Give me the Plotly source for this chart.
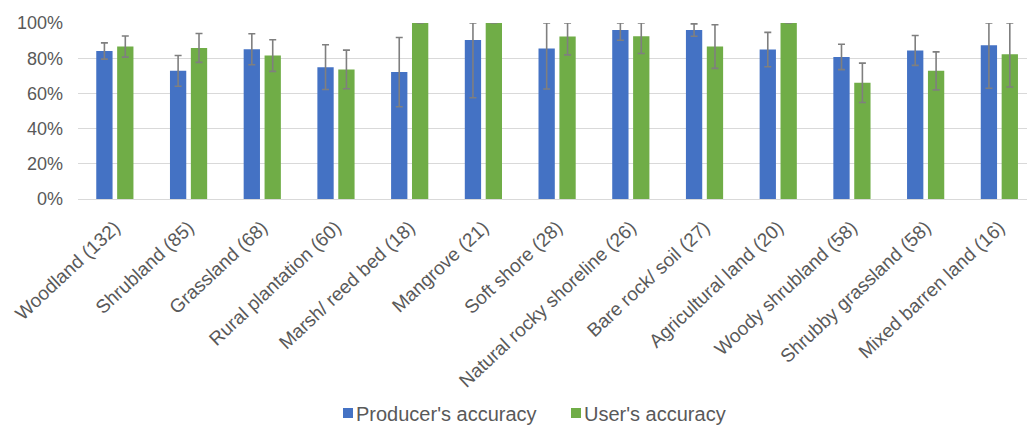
import plotly.graph_objects as go

# Land-cover classes (sample size in brackets)
categories = [
    "Woodland (132)", "Shrubland (85)", "Grassland (68)", "Rural plantation (60)",
    "Marsh/ reed bed (18)", "Mangrove (21)", "Soft shore (28)",
    "Natural rocky shoreline (26)", "Bare rock/ soil (27)", "Agricultural land (20)",
    "Woody shrubland (58)", "Shrubby grassland (58)", "Mixed barren land (16)",
]

# Accuracy (%) and confidence-interval half widths (%)
producer_acc = [84.1, 72.8, 85.1, 74.9, 72.1, 90.4, 85.5, 96.0, 96.0, 84.9, 80.7, 84.4, 87.4]
producer_ci = [4.6, 8.7, 8.8, 12.7, 19.7, 32.9, 23.0, 5.8, 3.5, 9.8, 7.2, 8.5, 24.5]
user_acc = [86.6, 85.8, 81.5, 73.6, 100.0, 100.0, 92.3, 92.5, 86.6, 100.0, 66.0, 72.8, 82.3]
user_ci = [6.0, 8.2, 9.0, 11.0, None, None, 10.4, 9.8, 12.4, None, 11.2, 10.8, 18.7]

series_names = ["Producer's accuracy", "User's accuracy"]
BLUE = "#4472C4"
GREEN = "#70AD47"
TEXT = "#595959"
FONT = "Liberation Sans, Arial, sans-serif"
Y_MAX = 100

W, H = 1027, 425
ML, MR, MT, MB = 78, 0, 23, 226
PW, PH = W - ML - MR, H - MT - MB


def upper_err(vals, cis):
    # error bars stop at the top of the axis
    return [None if c is None else min(c, Y_MAX - v) for v, c in zip(vals, cis)]


def err(vals, cis):
    return dict(
        type="data", symmetric=False,
        array=upper_err(vals, cis), arrayminus=cis,
        color="#7F7F7F", thickness=1.6, width=3.5,
    )


def px_x(p):
    return (p - ML) / PW


def px_y(p):
    return (H - MB - p) / PH


fig = go.Figure()
fig.add_trace(go.Bar(
    x=categories, y=producer_acc, name=series_names[0],
    marker=dict(color=BLUE, line=dict(width=0)),
    error_y=err(producer_acc, producer_ci),
))
fig.add_trace(go.Bar(
    x=categories, y=user_acc, name=series_names[1],
    marker=dict(color=GREEN, line=dict(width=0)),
    error_y=err(user_acc, user_ci),
))

# legend below the category labels: colour key squares followed by series names
legend_items = [(series_names[0], BLUE, 343), (series_names[1], GREEN, 571)]
for name, color, left in legend_items:
    fig.add_shape(
        type="rect", xref="paper", yref="paper",
        x0=px_x(left), x1=px_x(left + 10), y0=px_y(418), y1=px_y(408),
        fillcolor=color, line=dict(width=0),
    )
    fig.add_annotation(
        xref="paper", yref="paper", x=px_x(left + 12), y=px_y(414),
        xanchor="left", yanchor="middle", text=name, showarrow=False,
        font=dict(size=20, color=TEXT, family=FONT), borderpad=0,
    )

fig.update_layout(
    width=W, height=H,
    margin=dict(l=ML, r=MR, t=MT, b=MB, pad=0, autoexpand=False),
    paper_bgcolor="white", plot_bgcolor="white",
    barmode="group", bargap=0.433, bargroupgap=0.22,
    font=dict(family=FONT, color=TEXT),
    showlegend=False,
    xaxis=dict(
        type="category", range=[-0.5, 12.375], tickangle=-43,
        tickfont=dict(size=19, color=TEXT), showgrid=False,
        showline=True, linecolor="#D9D9D9", linewidth=1, ticks="",
        ticklabelstandoff=9, automargin=False, fixedrange=True,
    ),
    yaxis=dict(
        range=[0, Y_MAX], dtick=20, ticksuffix="%",
        tickfont=dict(size=18, color=TEXT),
        showgrid=True, gridcolor="#D9D9D9", gridwidth=1,
        zeroline=False, showline=False, ticks="", ticklabelstandoff=14,
        automargin=False, fixedrange=True,
    ),
)

fig.write_html("out.html")
